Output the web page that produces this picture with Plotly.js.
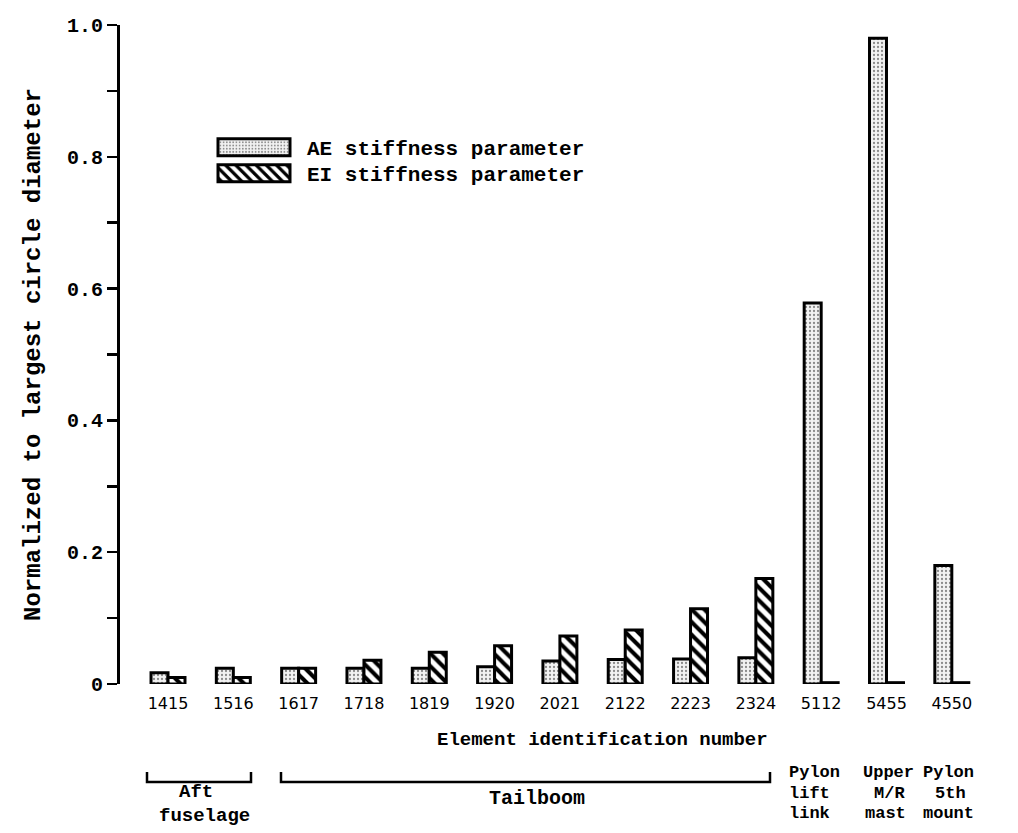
<!DOCTYPE html>
<html>
<head>
<meta charset="utf-8">
<script src="https://cdn.plot.ly/plotly-3.0.1.min.js"></script>
<style>html,body{margin:0;padding:0;background:#fff;}#chart{width:1018px;height:833px;}</style>
</head>
<body>
<div id="chart"></div>
<script>
// ---- data ----
const elements = ["1415","1516","1617","1718","1819","1920","2021","2122","2223","2324","5112","5455","4550"];
const aeStiffness = [0.017, 0.024, 0.024, 0.024, 0.024, 0.026, 0.035, 0.037, 0.038, 0.040, 0.578, 0.980, 0.180];
const eiStiffness = [0.010, 0.010, 0.024, 0.036, 0.048, 0.058, 0.073, 0.082, 0.114, 0.160, 0.002, 0.002, 0.002];
const yTickVals = [0, 0.1, 0.2, 0.3, 0.4, 0.5, 0.6, 0.7, 0.8, 0.9, 1.0];
const yTickText = ["0", "", "0.2", "", "0.4", "", "0.6", "", "0.8", "", "1.0"];
const seriesNames = ["AE stiffness parameter", "EI stiffness parameter"];

// ---- layout helpers (pixel -> paper) ----
const L = 120, R = 27, T = 25, B = 149, W = 1018, H = 833;
const PW = W - L - R, PH = H - T - B;
const px = v => (v - L) / PW;
const py = v => (H - B - v) / PH;

const mono = "Liberation Mono, Courier New, monospace";

const traces = [
  {
    type: "bar", name: seriesNames[0], x: elements, y: aeStiffness, legend: "legend",
    marker: {
      color: "#eeeeee",
      line: {color: "#000", width: 3},
      pattern: {shape: ".", fgcolor: "#8a8a8a", bgcolor: "#f2f2f2", size: 4, solidity: 0.25}
    },
    hoverinfo: "skip"
  },
  {
    type: "bar", name: seriesNames[1], x: elements, y: eiStiffness, legend: "legend2",
    marker: {
      color: "#ffffff",
      line: {color: "#000", width: 3},
      pattern: {shape: "\\", fgcolor: "#000", bgcolor: "#fff", size: 9, solidity: 0.45}
    },
    hoverinfo: "skip"
  }
];

const bracketY = py(782), bracketTop = py(772);
function bracket(x0, x1) {
  return {
    type: "path", xref: "paper", yref: "paper",
    path: `M ${px(x0)},${bracketTop} L ${px(x0)},${bracketY} L ${px(x1)},${bracketY} L ${px(x1)},${bracketTop}`,
    line: {color: "#000", width: 2.5}
  };
}

function lab(text, x, y, size, anchor) {
  return {
    text: text, xref: "paper", yref: "paper", x: px(x), y: py(y),
    xanchor: anchor || "center", yanchor: "middle", showarrow: false,
    font: {family: mono, size: size, color: "#000", weight: "bold"}
  };
}

function legendBox(topPx) {
  return {
    x: px(201), y: py(topPx), xanchor: "left", yanchor: "top",
    bgcolor: "rgba(0,0,0,0)", borderwidth: 0, itemwidth: 96,
    font: {family: mono, size: 21, color: "#000", weight: "bold"}
  };
}

const layout = {
  width: W, height: H,
  margin: {l: L, r: R, t: T, b: B, pad: 0},
  paper_bgcolor: "#fff", plot_bgcolor: "#fff",
  barmode: "group", bargap: 0.48, bargroupgap: 0,
  showlegend: true,
  legend: legendBox(127),
  legend2: legendBox(153),
  xaxis: {
    type: "category", range: [-0.735, 12.6],
    showline: false, showgrid: false, zeroline: false, ticks: "",
    ticklabelstandoff: 8,
    tickfont: {family: "DejaVu Sans, sans-serif", size: 16, color: "#000"}
  },
  yaxis: {
    range: [0, 1.0], showgrid: false, zeroline: false,
    showline: true, linecolor: "#000", linewidth: 3,
    ticks: "outside", ticklen: 10, tickwidth: 2.5, tickcolor: "#000",
    tickmode: "array", tickvals: yTickVals, ticktext: yTickText,
    tickfont: {family: mono, size: 20, color: "#000", weight: "bold"},
    title: {text: "Normalized to largest circle diameter", standoff: 20,
            font: {family: mono, size: 24, color: "#000", weight: "bold"}}
  },
  yaxis2: {
    overlaying: "y", side: "left", anchor: "x", range: [0, 1.0],
    showgrid: false, zeroline: false, showline: false,
    ticks: "inside", ticklen: 10, tickwidth: 2.5, tickcolor: "#000",
    tickmode: "array", tickvals: yTickVals, showticklabels: false
  },
  shapes: [bracket(147, 251), bracket(281, 770)],
  annotations: [
    lab("Element identification number", 602, 740, 19),
    lab("Aft", 196, 792, 19),
    lab("fuselage", 204, 816, 19),
    lab("Tailboom", 537, 798, 20),
    lab("Pylon", 787, 772, 17, "left"),
    lab("lift", 787, 793, 17, "left"),
    lab("link", 787, 813, 17, "left"),
    lab("Upper", 888, 772, 17),
    lab("M/R", 889, 793, 17),
    lab("mast", 885, 813, 17),
    lab("Pylon", 948, 772, 17),
    lab("5th", 950, 793, 17),
    lab("mount", 948, 813, 17)
  ]
};

Plotly.newPlot("chart", traces, layout, {displayModeBar: false, staticPlot: true}).then(gd => {
  // widen the legend swatches to long rectangles like the reference key
  gd.querySelectorAll("g.legendpoints path").forEach(p => {
    p.setAttribute("d", "M-36,8.5H36V-8.5H-36Z");
  });
});
</script>
</body>
</html>
